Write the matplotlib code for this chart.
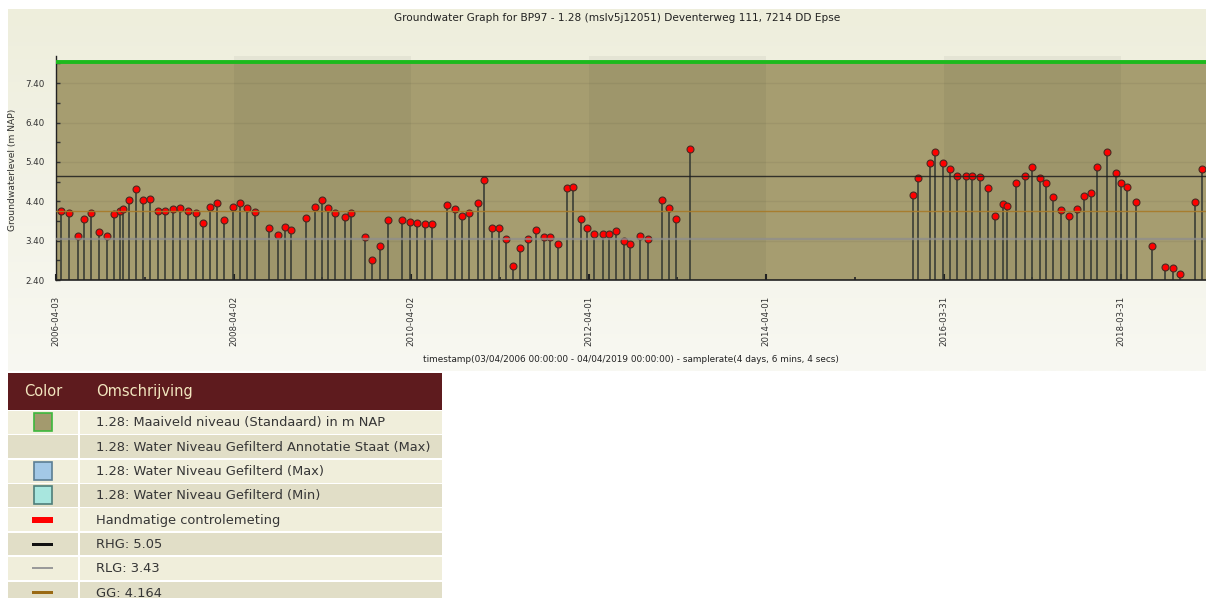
import matplotlib
matplotlib.use("Agg")
import matplotlib.pyplot as plt
import matplotlib.dates as mdates
import numpy as np
import pandas as pd
from matplotlib.patches import Rectangle

# ---------------- data ----------------
dates = [
    '2006-04-24', '2006-05-26', '2006-07-02', '2006-07-26', '2006-08-26', '2006-09-28', '2006-10-30', '2006-11-27', '2006-12-23', '2007-01-02',
    '2007-01-29', '2007-02-27', '2007-03-28', '2007-04-24', '2007-05-26', '2007-06-26', '2007-07-28', '2007-08-27', '2007-09-26', '2007-10-29',
    '2007-11-27', '2007-12-28', '2008-01-26', '2008-02-23', '2008-03-30', '2008-04-27', '2008-05-26', '2008-06-30', '2008-08-24', '2008-09-30',
    '2008-10-29', '2008-11-25', '2009-01-24', '2009-03-02', '2009-03-31', '2009-04-25', '2009-05-25', '2009-07-03', '2009-07-27',
    '2009-09-26', '2009-10-24', '2009-11-25', '2009-12-27', '2010-02-25', '2010-03-29', '2010-04-26', '2010-05-28', '2010-06-26',
    '2010-08-28', '2010-09-29', '2010-10-27', '2010-11-25', '2011-01-03', '2011-01-27', '2011-03-01', '2011-03-28', '2011-04-26', '2011-05-28',
    '2011-06-25', '2011-07-27', '2011-08-28', '2011-10-02', '2011-10-27', '2011-11-29', '2012-01-03', '2012-01-28', '2012-02-29', '2012-03-27',
    '2012-04-25', '2012-05-29', '2012-06-24', '2012-07-22', '2012-08-26', '2012-09-20', '2012-10-30', '2012-11-30', '2013-01-29', '2013-02-27',
    '2013-03-28', '2013-05-22',
    '2015-11-24', '2015-12-16', '2016-02-04', '2016-02-25', '2016-03-28', '2016-04-25', '2016-05-24', '2016-06-29', '2016-07-26', '2016-08-28',
    '2016-09-29', '2016-10-28', '2016-11-28', '2016-12-17', '2017-01-22', '2017-02-28', '2017-03-29', '2017-04-29', '2017-05-24', '2017-06-24',
    '2017-07-27', '2017-08-30', '2017-09-28', '2017-10-30', '2017-11-28', '2017-12-22', '2018-01-31', '2018-03-08', '2018-03-28', '2018-04-25',
    '2018-05-31', '2018-08-03', '2018-09-28', '2018-10-30', '2018-11-27', '2019-01-28', '2019-02-27']

levels = [
    4.15, 4.10, 3.53, 3.95, 4.10, 3.63, 3.53, 4.07, 4.16, 4.21,
    4.44, 4.72, 4.42, 4.47, 4.15, 4.15, 4.20, 4.22, 4.15, 4.10,
    3.85, 4.25, 4.35, 3.93, 4.25, 4.35, 4.22, 4.12, 3.72, 3.55,
    3.75, 3.67, 3.97, 4.25, 4.44, 4.22, 4.10, 4.00, 4.10,
    3.50, 2.91, 3.26, 3.92, 3.93, 3.88, 3.85, 3.82, 3.82,
    4.30, 4.20, 4.02, 4.10, 4.35, 4.94, 3.72, 3.72, 3.45, 2.76,
    3.21, 3.43, 3.67, 3.50, 3.48, 3.32, 4.74, 4.77, 3.94, 3.72,
    3.57, 3.57, 3.57, 3.65, 3.39, 3.32, 3.53, 3.43, 4.44, 4.24,
    3.94, 5.73,
    4.56, 4.99, 5.38, 5.66, 5.36, 5.22, 5.04, 5.04, 5.04, 5.01,
    4.74, 4.02, 4.32, 4.29, 4.87, 5.04, 5.28, 4.99, 4.87, 4.51,
    4.17, 4.02, 4.21, 4.54, 4.61, 5.26, 5.66, 5.11, 4.87, 4.76,
    4.37, 3.27, 2.73, 2.71, 2.56, 4.39, 5.23]

maaiveld = 7.94
rhg = 5.05
rlg = 3.43
gg = 4.164
x_start, x_end = '2006-04-03', '2019-04-04'
tick_dates = ['2006-04-03', '2008-04-02', '2010-04-02', '2012-04-01',
              '2014-04-01', '2016-03-31', '2018-03-31']
odd_year_ticks = ['2007-04-03', '2009-04-02', '2011-04-02', '2013-04-01',
                  '2015-04-01', '2017-03-31']
y_labels = [2.40, 3.40, 4.40, 5.40, 6.40, 7.40]
y_minor = [2.90, 3.90, 4.90, 5.90, 6.90, 7.90]
y_min, y_max = 2.40, 8.09

title = "Groundwater Graph for BP97 - 1.28 (mslv5j12051) Deventerweg 111, 7214 DD Epse"
ylabel = "Groundwaterlevel (m NAP)"
caption = "timestamp(03/04/2006 00:00:00 - 04/04/2019 00:00:00) - samplerate(4 days, 6 mins, 4 secs)"

legend_rows = [
    ("square", "#A39A6E", "#3DB83D", "1.28: Maaiveld niveau (Standaard) in m NAP"),
    (None, None, None, "1.28: Water Niveau Gefilterd Annotatie Staat (Max)"),
    ("square", "#A3C8E6", "#5C7E94", "1.28: Water Niveau Gefilterd (Max)"),
    ("square", "#A8E6DE", "#4E7E7A", "1.28: Water Niveau Gefilterd (Min)"),
    ("bar", "#FF0000", None, "Handmatige controlemeting"),
    ("line3", "#111111", None, f"RHG: {rhg}"),
    ("line2", "#9A9A9A", None, f"RLG: {rlg}"),
    ("line3", "#9A6A14", None, f"GG: {gg}"),
]

# ---------------- figure ----------------
W, H = 1206, 598
plt.rcParams['font.family'] = ['DejaVu Sans']
fig = plt.figure(figsize=(W / 100, H / 100), dpi=100, facecolor='white')

# background / table layer in pixel coordinates (origin top-left)
bg = fig.add_axes([0, 0, 1, 1], zorder=0)
bg.set_xlim(0, W)
bg.set_ylim(H, 0)
bg.axis('off')

# chart panel with vertical gradient
grad = np.linspace(0, 1, 256)[:, None]
c_top = np.array([238, 238, 220]) / 255
c_bot = np.array([248, 248, 242]) / 255
img = c_top[None, None, :] * (1 - grad[:, :, None]) + c_bot[None, None, :] * grad[:, :, None]
bg.imshow(img, extent=(8, W, 371, 9), aspect='auto', interpolation='bilinear', zorder=0)
bg.set_xlim(0, W)
bg.set_ylim(H, 0)

# title / axis texts
bg.text(617, 18, title, ha='center', va='center', fontsize=7.6, color='#222222')
bg.text(13, 170, ylabel, ha='center', va='center', rotation=90, fontsize=6.6, color='#333333')
bg.text(631, 359, caption, ha='center', va='center', fontsize=6.4, color='#222222')

# legend table
tx0, tx1 = 8, 442
bg.add_patch(Rectangle((tx0, 373), tx1 - tx0, 37, facecolor='#5E1B1E', edgecolor='none', zorder=1))
bg.text(24, 391.5, "Color", ha='left', va='center', fontsize=10.5, color='#F2E6BF', zorder=2)
bg.text(96, 391.5, "Omschrijving", ha='left', va='center', fontsize=10.5, color='#F2E6BF', zorder=2)
row_edges = [410, 434.3, 458.7, 483.3, 507.3, 532, 556, 580.7, 605]
for i, (kind, fc, ec, label) in enumerate(legend_rows):
    r0, r1 = row_edges[i], row_edges[i + 1]
    col = '#F0EEDB' if i % 2 == 0 else '#E1DEC7'
    bg.add_patch(Rectangle((tx0, r0 + 0.8), tx1 - tx0, r1 - r0 - 1.6, facecolor=col, edgecolor='none', zorder=1))
    bg.add_patch(Rectangle((78.2, r0), 1.4, r1 - r0, facecolor='white', edgecolor='none', zorder=1.5))
    cy = (r0 + r1) / 2
    if kind == 'square':
        bg.add_patch(Rectangle((33.5, cy - 9), 18, 18, facecolor=fc, edgecolor=ec, linewidth=1.2, zorder=2))
    elif kind == 'bar':
        bg.add_patch(Rectangle((32, cy - 3), 21, 6, facecolor=fc, edgecolor='none', zorder=2))
    elif kind == 'line3':
        bg.add_patch(Rectangle((32, cy - 1.5), 21, 3, facecolor=fc, edgecolor='none', zorder=2))
    elif kind == 'line2':
        bg.add_patch(Rectangle((32, cy - 1), 21, 2, facecolor=fc, edgecolor='none', zorder=2))
    bg.text(96, cy + 0.5, label, ha='left', va='center', fontsize=9.4, color='#363636', zorder=2)

# ---------------- main axes ----------------
ax_l, ax_r, ax_t, ax_b = 56, 1211, 56, 280
ax = fig.add_axes([ax_l / W, 1 - ax_b / H, (ax_r - ax_l) / W, (ax_b - ax_t) / H], zorder=1)
ax.set_facecolor('none')

xd = pd.to_datetime(dates)
x0, x1 = pd.Timestamp(x_start), pd.Timestamp(x_end)
ax.set_xlim(x0, x1)
ax.set_ylim(y_min, y_max)

# olive area up to ground level
ax.fill_between([x0, x1], y_min, maaiveld, color='#A69D70', linewidth=0, zorder=1)
# alternating date bands
tb = [pd.Timestamp(t) for t in tick_dates] + [x1]
for i in range(len(tb) - 1):
    if i % 2 == 1:
        ax.axvspan(tb[i], tb[i + 1], color='black', alpha=0.045, linewidth=0, zorder=1.2)

# faint gridlines
for yv in y_labels[1:]:
    ax.axhline(yv, color='black', alpha=0.05, linewidth=1.0, zorder=1.3)

# stems and markers
ax.vlines(xd, y_min, levels, color='#3A3E36', linewidth=1.2, zorder=2)
ax.plot(xd, levels, 'o', markerfacecolor='#FF0000', markeredgecolor='#4A2A22',
        markersize=5.0, markeredgewidth=0.8, linestyle='none', zorder=3)

# reference lines
ax.axhline(rhg, color='#1E1E1E', linewidth=1.0, zorder=4, alpha=0.85)
ax.axhline(rlg, color='#8E8E8E', linewidth=1.7, zorder=4, alpha=0.75)
ax.axhline(gg, color='#A87A28', linewidth=1.0, zorder=4, alpha=0.9)
ax.axhline(maaiveld, color='#1DBA1D', linewidth=2.8, zorder=4)

# spines / ticks
for s in ['top', 'right']:
    ax.spines[s].set_visible(False)
ax.spines['left'].set_color('#222222')
ax.spines['bottom'].set_color('#222222')
ax.spines['left'].set_linewidth(1.0)
ax.spines['bottom'].set_linewidth(1.2)

ax.set_yticks(y_labels)
ax.set_yticklabels([f"{v:.2f}" for v in y_labels])
ax.set_yticks(y_minor, minor=True)
ax.tick_params(axis='y', which='major', direction='in', length=3, width=1.0, color='#333333',
               labelsize=6.3, labelcolor='#333333', pad=8)
ax.tick_params(axis='y', which='minor', direction='in', length=3, width=1.0, color='#333333')

ax.set_xticks([pd.Timestamp(t) for t in tick_dates])
ax.set_xticklabels(tick_dates, rotation=90, ha='center', va='top')
ax.set_xticks([pd.Timestamp(t) for t in odd_year_ticks], minor=True)
ax.tick_params(axis='x', which='major', direction='in', length=4, width=1.5, color='#222222',
               labelsize=6.2, labelcolor='#333333', pad=11)
ax.tick_params(axis='x', which='minor', direction='in', length=2.5, width=1.2, color='#222222')

fig.savefig('out.png', dpi=100, facecolor='white')
